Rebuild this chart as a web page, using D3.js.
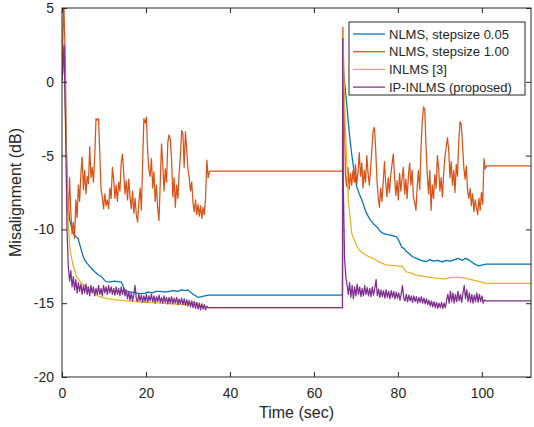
<!DOCTYPE html>
<html>
<head>
<meta charset="utf-8">
<script src="https://cdn.jsdelivr.net/npm/d3@7"></script>
<style>
  body { margin: 0; background: #fff; }
  text { font-family: "Liberation Sans", Arial, sans-serif; fill: #262626; }
</style>
</head>
<body>
<svg id="chart"></svg>
<script>
// ---- data ----
const xTicks = [0, 20, 40, 60, 80, 100];
const yTicks = [5, 0, -5, -10, -15, -20];
const legendNames = ['NLMS, stepsize 0.05', 'NLMS, stepsize 1.00', 'INLMS [3]', 'IP-INLMS (proposed)'];
const colors = ['#0072BD', '#D95319', '#EDB120', '#7E2F8E'];

// NLMS stepsize 0.05 (smooth, [time, dB])
const nlms005 = [
  [0,0],[0.5,2.2],[0.9,-3],[1.3,-7.5],[1.8,-9.3],[2.3,-9.9],[2.8,-10.3],[3.3,-10.5],[3.8,-10.6],
  [4.2,-11.0],[4.6,-11.4],[5.0,-11.8],[5.4,-12.07],[6.0,-12.3],[6.6,-12.5],[7.2,-12.7],[7.8,-12.87],
  [8.5,-13.05],[9.4,-13.2],[10.0,-13.4],[10.5,-13.54],[11.5,-13.55],[12.5,-13.5],[13.5,-13.55],
  [14.1,-13.56],[14.5,-13.8],[14.9,-14.1],[15.5,-14.2],[16.5,-14.25],[17.5,-14.3],[18.5,-14.35],
  [19.7,-14.33],[20.5,-14.25],[21.5,-14.3],[22.5,-14.2],[23.6,-14.2],[24.5,-14.25],[25.5,-14.2],
  [26.5,-14.15],[27.5,-14.2],[28.5,-14.1],[29.5,-14.15],[30.0,-14.1],[30.8,-14.3],[31.5,-14.45],
  [32.4,-14.6],[33.3,-14.56],[34.0,-14.5],[35.0,-14.45],[66.8,-14.45],[66.95,1.0],[67.4,-0.3],
  [67.8,-1.46],[68.2,-2.8],[68.6,-3.94],[69.0,-4.9],[69.4,-5.75],[69.8,-6.5],[70.2,-7.1],[70.8,-7.6],
  [71.4,-8.0],[72.0,-8.5],[72.5,-8.9],[73.3,-9.3],[74.1,-9.6],[74.9,-9.8],[75.7,-10.1],[76.5,-10.27],
  [77.5,-10.35],[78.5,-10.4],[79.7,-10.5],[80.3,-10.8],[80.9,-11.2],[81.5,-11.3],[82.0,-11.5],
  [82.5,-11.6],[83.5,-11.85],[84.4,-11.96],[85.5,-12.1],[86.7,-12.19],[87.6,-12.05],[88.5,-12.15],
  [89.5,-12.1],[90.5,-12.2],[91.5,-12.1],[92.5,-12.15],[93.5,-12.05],[94.3,-11.96],[95.4,-12.1],
  [96.0,-11.95],[97.1,-12.1],[98.0,-12.3],[99.0,-12.45],[99.5,-12.46],[100.2,-12.4],[101.0,-12.35],
  [111.7,-12.35]
];

// INLMS [3] ([time, dB])
const inlms = [
  [0,0],[0.6,2.0],[1.1,-6],[1.5,-9.5],[1.9,-11.4],[2.7,-12.5],[3.5,-13.2],[4.5,-13.6],[5.9,-13.9],
  [7.0,-14.2],[8.0,-14.4],[9.0,-14.56],[11.0,-14.7],[13.0,-14.78],[15.0,-14.85],[17.8,-14.9],
  [20.0,-14.95],[23.3,-15.0],[26.0,-15.05],[29.0,-15.1],[30.5,-15.05],[31.3,-14.9],[32.0,-15.0],
  [33.0,-15.15],[34.4,-15.24],[35.0,-15.3],[66.8,-15.3],[66.9,3.28],[67.4,-2.6],[68.2,-8.0],
  [69.0,-10.27],[70.0,-11.0],[70.8,-11.4],[71.6,-11.6],[72.8,-11.8],[74.0,-11.96],[75.5,-12.2],
  [77.1,-12.4],[79.0,-12.45],[81.1,-12.5],[82.0,-12.87],[83.0,-12.95],[84.3,-13.1],[86.5,-13.2],
  [89.0,-13.3],[91.0,-13.35],[93.0,-13.25],[94.5,-13.25],[96.0,-13.3],[97.5,-13.4],[99.4,-13.54],
  [101.0,-13.65],[111.7,-13.65]
];

// noisy series: sampled every noiseStep seconds between fixed anchor points
const noiseStep = 0.3;

// NLMS stepsize 1.00
const nlms100Head = [[0,0],[0.4,5.6],[0.8,1.5],[1.0,-4]];
const nlms100Start1 = 1.2;
const nlms100Noise1 = [
  -7.5,-9.0,-6.5,-8.8,-10.3,-9.5,-10.6,-8.0,-9.2,-7.0,
  -8.1,-6.2,-5.1,-7.3,-6.0,-7.6,-6.4,-6.9,-4.4,-6.5,
  -5.8,-6.8,-5.0,-2.5,-2.6,-2.5,-4.8,-7.3,-7.8,-8.6,
  -7.6,-8.4,-8.0,-8.6,-7.2,-7.9,-5.8,-6.6,-7.9,-7.0,
  -8.1,-6.8,-7.4,-5.5,-4.9,-6.2,-7.6,-6.7,-8.0,-6.6,
  -7.8,-8.6,-7.4,-8.9,-7.9,-9.0,-9.5,-8.2,-7.2,-8.7,
  -5.5,-2.5,-2.8,-2.4,-4.7,-6.0,-6.4,-5.2,-7.2,-6.1,
  -8.1,-7.0,-8.6,-9.4,-6.8,-4.2,-5.6,-7.4,-5.9,-6.8,
  -4.1,-3.6,-3.9,-5.3,-7.8,-6.5,-8.5,-7.0,-7.9,-6.2,
  -5.0,-3.3,-3.5,-5.8,-3.4,-4.6,-5.9,-6.5,-7.4,-6.8,
  -8.2,-8.8,-8.0,-9.0,-8.3,-9.1,-8.4,-9.25,-8.5,-9.0,
  -7.8,-5.3,-6.5
];
const nlms100Mid = [[35.1,-6.05],[66.8,-6.05],[66.9,3.7],[67.2,-1.0]];
const nlms100Start2 = 67.5;
const nlms100Noise2 = [
  -6.3,-7.1,-5.8,-7.3,-6.2,-7.0,-6.0,-6.8,-5.6,-6.9,
  -6.1,-4.8,-6.4,-5.5,-7.2,-6.0,-6.8,-5.0,-6.2,-7.0,
  -5.9,-4.6,-3.3,-3.1,-4.5,-6.6,-7.8,-8.5,-7.2,-8.1,
  -6.8,-5.4,-6.9,-7.8,-6.5,-7.5,-6.3,-5.6,-4.9,-6.4,
  -7.7,-6.7,-8.0,-6.2,-7.4,-6.5,-5.8,-7.6,-6.6,-7.9,
  -6.4,-5.5,-7.0,-6.0,-7.8,-8.2,-8.7,-7.1,-6.0,-7.3,
  -4.5,-2.7,-1.7,-1.9,-4.4,-6.3,-7.6,-6.0,-8.7,-7.0,
  -7.9,-6.3,-7.2,-5.0,-5.9,-7.4,-6.5,-7.8,-6.2,-5.1,
  -4.4,-3.8,-4.6,-6.5,-5.4,-7.0,-6.0,-7.5,-5.6,-6.4,
  -4.0,-2.7,-2.9,-4.3,-5.8,-6.6,-5.7,-7.4,-7.9,-7.2,
  -8.4,-7.6,-8.8,-8.0,-8.5,-9.0,-7.9,-8.7,-7.5,-8.3,
  -5.2,-5.9
];
const nlms100Tail = [[101.1,-5.7],[111.7,-5.7]];

// IP-INLMS (proposed)
const ipinlmsHead = [[0,0],[0.5,2.5],[0.9,-4],[1.2,-10]];
const ipinlmsStart1 = 1.5;
const ipinlmsNoise1 = [
  -12.5,-13.5,-12.8,-13.9,-13.2,-14.1,-13.4,-14.3,-13.6,-14.2,
  -13.7,-14.4,-13.8,-14.3,-13.7,-14.4,-13.9,-14.5,-13.8,-14.3,
  -13.9,-14.5,-14.0,-14.4,-13.8,-14.4,-14.0,-14.5,-13.8,-14.3,
  -13.9,-14.4,-13.8,-14.3,-13.9,-14.4,-14.0,-14.45,-13.9,-14.4,
  -14.0,-14.5,-13.9,-14.4,-14.0,-14.5,-14.1,-14.7,-14.2,-14.8,
  -14.3,-14.85,-14.4,-13.8,-14.7,-14.9,-14.4,-14.85,-14.45,-14.95,
  -14.5,-14.9,-14.4,-14.95,-14.5,-14.85,-14.4,-14.9,-14.5,-15.0,
  -14.55,-14.9,-14.45,-14.95,-14.6,-15.0,-14.5,-14.95,-14.6,-15.05,
  -14.6,-15.0,-14.55,-15.05,-14.65,-15.0,-14.6,-15.1,-14.7,-15.05,
  -14.65,-15.1,-14.7,-15.15,-14.75,-15.2,-14.8,-15.25,-14.85,-15.3,
  -14.9,-15.35,-14.95,-15.4,-15.0,-15.45,-15.05,-15.4,-15.1,-15.45,
  -15.2,-15.3
];
const ipinlmsMid = [[35.1,-15.3],[66.8,-15.3],[66.85,2.95],[67.0,-7.1],[67.3,-12.0],[67.6,-13.2],[67.9,-13.8]];
const ipinlmsStart2 = 68.2;
const ipinlmsNoise2 = [
  -14.4,-13.6,-14.6,-13.8,-14.7,-13.9,-14.5,-13.7,-14.4,-13.9,
  -14.55,-14.0,-14.5,-13.8,-14.4,-13.95,-14.5,-14.0,-14.55,-13.9,
  -14.45,-14.0,-13.4,-14.5,-14.05,-14.6,-14.1,-14.55,-14.15,-14.65,
  -14.1,-14.6,-14.2,-14.7,-14.15,-14.6,-14.2,-14.7,-14.25,-14.65,
  -14.3,-14.8,-14.35,-13.8,-14.7,-14.85,-14.4,-14.9,-14.45,-14.85,
  -14.5,-14.95,-14.5,-14.9,-14.55,-15.0,-14.6,-14.95,-14.55,-15.0,
  -14.65,-15.05,-14.7,-15.1,-14.8,-15.2,-14.85,-15.25,-14.9,-15.3,
  -14.95,-15.35,-15.0,-15.3,-14.95,-15.35,-15.0,-15.3,-14.8,-14.4,
  -15.0,-14.2,-14.9,-14.3,-15.0,-14.4,-14.9,-14.2,-14.85,-14.4,
  -14.95,-14.3,-13.8,-14.7,-14.1,-14.9,-14.3,-14.95,-14.4,-15.0,
  -14.45,-14.9,-14.3,-14.95,-14.4,-14.9,-14.5,-15.0,-14.78
];
const ipinlmsTail = [[101.0,-14.85],[111.7,-14.85]];

function sampled(start, values) {
  return values.map((v, i) => [start + i * noiseStep, v]);
}

const nlms100 = [].concat(
  nlms100Head, sampled(nlms100Start1, nlms100Noise1),
  nlms100Mid, sampled(nlms100Start2, nlms100Noise2), nlms100Tail);
const ipinlms = [].concat(
  ipinlmsHead, sampled(ipinlmsStart1, ipinlmsNoise1),
  ipinlmsMid, sampled(ipinlmsStart2, ipinlmsNoise2), ipinlmsTail);

const series = [nlms005, nlms100, inlms, ipinlms];

// ---- layout ----
const width = 534, height = 427;
const margin = { top: 8, right: 3, bottom: 50, left: 62 };
const iw = width - margin.left - margin.right;
const ih = height - margin.top - margin.bottom;
const ink = '#262626';

const svg = d3.select('#chart').attr('width', width).attr('height', height);
const g = svg.append('g').attr('transform', `translate(${margin.left},${margin.top})`);

const x = d3.scaleLinear().domain([0, 111.7]).range([0, iw]);
const y = d3.scaleLinear().domain([-20, 5]).range([ih, 0]);

svg.append('defs').append('clipPath').attr('id', 'plot-clip')
  .append('rect').attr('width', iw).attr('height', ih);

const line = d3.line().x(d => x(d[0])).y(d => y(d[1]));

g.append('g').attr('clip-path', 'url(#plot-clip)')
  .selectAll('path')
  .data(series)
  .join('path')
    .attr('d', line)
    .attr('fill', 'none')
    .attr('stroke', (d, i) => colors[i])
    .attr('stroke-width', 1.25)
    .attr('stroke-linejoin', 'round');

// axes, MATLAB style: inward ticks on all four sides
const tickLen = 5;
const styleAxis = sel => {
  sel.select('.domain').remove();
  sel.selectAll('.tick line').attr('stroke', ink);
  sel.selectAll('.tick text').attr('fill', ink).style('font-size', '14px');
};

g.append('g').attr('transform', `translate(0,${ih})`)
  .call(d3.axisBottom(x).tickValues(xTicks).tickSize(-tickLen).tickPadding(11))
  .call(styleAxis);
g.append('g')
  .call(d3.axisTop(x).tickValues(xTicks).tickSize(-tickLen).tickFormat(''))
  .call(styleAxis);
g.append('g')
  .call(d3.axisLeft(y).tickValues(yTicks).tickSize(-tickLen).tickPadding(8).tickFormat(d3.format('d')))
  .call(styleAxis);
g.append('g').attr('transform', `translate(${iw},0)`)
  .call(d3.axisRight(y).tickValues(yTicks).tickSize(-tickLen).tickFormat(''))
  .call(styleAxis);

g.selectAll('.tick text').text(function() { return this.textContent.replace('\u2212', '-'); });

g.append('rect')
  .attr('width', iw).attr('height', ih)
  .attr('fill', 'none').attr('stroke', ink).attr('stroke-width', 1);

g.append('text')
  .attr('x', iw / 2).attr('y', ih + 41)
  .attr('text-anchor', 'middle')
  .style('font-size', '16px')
  .text('Time (sec)');

g.append('text')
  .attr('transform', `translate(${-41},${ih / 2}) rotate(-90)`)
  .attr('text-anchor', 'middle')
  .style('font-size', '16px')
  .text('Misalignment (dB)');

// legend
const lg = svg.append('g').attr('transform', 'translate(349,22)');
lg.append('rect')
  .attr('width', 176).attr('height', 73)
  .attr('fill', '#fff').attr('stroke', ink).attr('stroke-width', 1);
const rows = lg.selectAll('g.row')
  .data(legendNames)
  .join('g')
    .attr('class', 'row')
    .attr('transform', (d, i) => `translate(0,${12 + i * 17.7})`);
rows.append('line')
  .attr('x1', 4).attr('x2', 36)
  .attr('stroke', (d, i) => colors[i]).attr('stroke-width', 1.25);
rows.append('text')
  .attr('x', 40).attr('dy', '0.35em')
  .style('font-size', '13px')
  .text(d => d);
</script>
</body>
</html>
